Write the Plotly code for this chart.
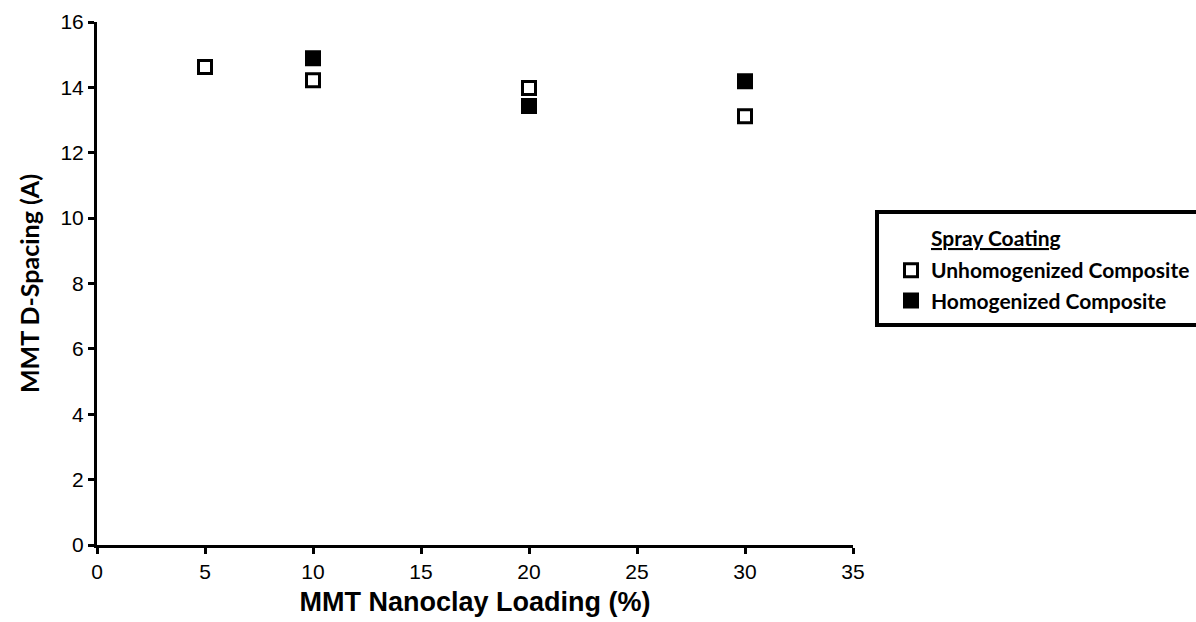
import plotly.graph_objects as go

unhomog_x = [5, 10, 20, 30]
unhomog_y = [14.62, 14.22, 13.98, 13.12]
homog_x = [10, 20, 30]
homog_y = [14.89, 13.43, 14.19]
x_ticks = [0, 5, 10, 15, 20, 25, 30, 35]
y_ticks = [0, 2, 4, 6, 8, 10, 12, 14, 16]

fig = go.Figure()
fig.add_trace(go.Scatter(
    x=unhomog_x, y=unhomog_y, mode="markers", name="<b>Unhomogenized Composite</b>",
    marker=dict(symbol="square", size=13, color="white", line=dict(color="black", width=3)),
))
fig.add_trace(go.Scatter(
    x=homog_x, y=homog_y, mode="markers", name="<b>Homogenized Composite</b>",
    marker=dict(symbol="square", size=13, color="black", line=dict(color="black", width=3)),
))

axis_common = dict(
    showgrid=False, zeroline=False, showline=True, linecolor="black", linewidth=3,
    ticks="outside", ticklen=6, tickwidth=3, tickcolor="black", automargin=False,
    tickfont=dict(family="Arial, Liberation Sans", size=21, color="black"),
)
fig.update_xaxes(range=[0, 35], tickvals=x_ticks, **axis_common,
                 title=dict(text="<b>MMT Nanoclay Loading (%)</b>",
                            font=dict(family="Arial, Liberation Sans", size=27, color="black"),
                            standoff=10))
fig.update_yaxes(range=[0, 16], tickvals=y_ticks, **axis_common,
                 title=dict(text="<b>MMT D-Spacing (A)</b>",
                            font=dict(family="Lato", size=25, color="black"),
                            standoff=14))

leg_left = 891
fig.update_layout(
    width=1196, height=622,
    margin=dict(l=97, r=343, t=22, b=77, autoexpand=False),
    plot_bgcolor="white", paper_bgcolor="white",
    showlegend=True,
    legend=dict(
        x=(leg_left - 97) / 756, y=(545 - 250) / 523, xanchor="left", yanchor="top",
        font=dict(family="Lato", size=21, color="black"),
        bgcolor="rgba(0,0,0,0)", borderwidth=0, itemwidth=30, tracegroupgap=0,
    ),
    annotations=[dict(
        text="<b><u>Spray Coating</u></b>", xref="paper", yref="paper",
        x=(929 - 97) / 756, y=(545 - 237) / 523, xanchor="left", yanchor="middle",
        showarrow=False, font=dict(family="Lato", size=21, color="black"),
    )],
    shapes=[dict(type="rect", xref="paper", yref="paper",
                 x0=(877 - 97) / 756, x1=(1199 - 97) / 756,
                 y0=(545 - 325) / 523, y1=(545 - 212) / 523,
                 line=dict(color="black", width=4))],
)
fig.write_html("out.html")
